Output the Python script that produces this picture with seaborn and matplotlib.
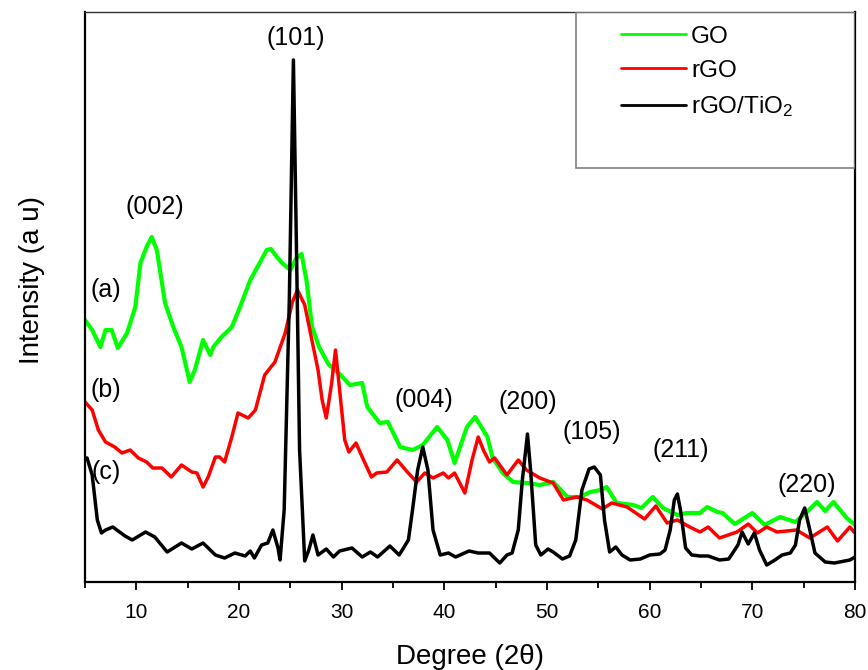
import matplotlib
matplotlib.use("Agg")
import matplotlib.pyplot as plt
from matplotlib.patches import Rectangle
import seaborn as sns
import numpy as np

# ---- data (intensity in arbitrary units) ----
go_deg = [5.0, 5.7, 6.5, 7.0, 7.6, 8.2, 9.1, 9.9, 10.4, 11.0, 11.5, 12.0, 12.8, 13.6, 14.4,
          15.2, 15.7, 16.5, 17.2, 17.5, 18.3, 19.3, 20.1, 21.1, 21.8, 22.7, 23.1, 23.7, 24.2,
          25.0, 25.6, 26.1, 26.6, 27.1, 27.8, 28.7, 29.8, 30.8, 32.0, 32.5, 33.7, 34.5, 35.7,
          36.9, 37.9, 39.3, 40.3, 41.0, 42.2, 43.0, 44.2, 44.7, 45.7, 46.7, 48.1, 49.3, 50.6,
          52.0, 53.2, 54.2, 55.2, 55.8, 56.8, 58.4, 59.2, 60.3, 61.3, 62.7, 63.6, 64.9, 65.6,
          66.6, 67.1, 68.3, 70.0, 71.2, 72.7, 74.2, 75.3, 76.3, 77.1, 77.9, 79.2, 80.0]
go_int = [262, 252, 235, 252, 252, 234, 249, 275, 319, 335, 345, 332, 279, 255, 235,
          200, 212, 242, 227, 235, 245, 255, 275, 302, 315, 332, 333, 325, 319,
          312, 324, 328, 300, 256, 235, 218, 208, 197, 199, 175, 159, 160, 135,
          132, 137, 155, 142, 119, 155, 165, 145, 124, 109, 100, 99, 97, 100,
          85, 85, 90, 92, 95, 79, 77, 74, 85, 74, 67, 69, 69, 75,
          70, 69, 58, 69, 57, 65, 60, 70, 80, 71, 80, 64, 57]

rgo_deg = [5.0, 5.7, 6.3, 7.0, 7.9, 8.6, 9.4, 10.2, 11.0, 11.6, 12.5, 13.4, 14.4, 15.4, 15.9,
           16.5, 17.0, 17.7, 18.1, 18.6, 19.3, 19.9, 20.9, 21.6, 22.5, 23.5, 24.5, 25.2, 25.7,
           26.4, 27.0, 27.7, 28.1, 28.5, 29.0, 29.4, 29.9, 30.3, 30.7, 31.4, 32.0, 32.9, 33.4,
           34.4, 35.4, 36.4, 37.3, 38.1, 38.9, 39.9, 40.4, 41.0, 42.0, 42.7, 43.3, 43.8, 44.4,
           44.9, 46.1, 47.2, 48.0, 49.3, 50.6, 51.6, 52.9, 53.9, 55.4, 56.3, 57.8, 59.5, 60.6,
           61.7, 62.7, 63.9, 64.9, 65.7, 66.8, 68.5, 69.6, 70.5, 71.4, 72.4, 74.3, 75.6, 77.3,
           78.3, 79.5, 80.0]
rgo_int = [180, 172, 152, 140, 135, 129, 132, 124, 120, 114, 114, 105, 117, 110, 109,
           95, 105, 125, 125, 120, 145, 169, 164, 172, 207, 220, 249, 280, 292,
           277, 247, 212, 182, 164, 197, 232, 182, 142, 130, 139, 125, 105, 109,
           110, 122, 110, 100, 109, 104, 109, 104, 109, 89, 122, 145, 132, 120,
           124, 107, 122, 112, 104, 99, 82, 85, 82, 73, 79, 75, 63, 76,
           59, 62, 55, 50, 55, 44, 50, 58, 49, 55, 50, 52, 44, 55,
           41, 55, 49]

tio2_deg = [5.0, 5.2, 5.7, 6.2, 6.6, 7.0, 7.7, 8.9, 9.6, 10.9, 11.8, 13.0, 14.4, 15.4, 16.5,
            17.7, 18.6, 19.6, 20.6, 21.1, 21.5, 22.2, 22.8, 23.3, 23.8, 24.0, 24.4, 24.9, 25.3,
            25.6, 25.9, 26.4, 26.8, 27.2, 27.7, 28.5, 29.2, 29.8, 31.0, 32.0, 32.8, 33.5, 34.7,
            35.6, 36.5, 36.9, 37.4, 37.9, 38.4, 38.9, 39.6, 40.4, 41.1, 42.4, 43.3, 44.4, 45.4,
            46.1, 46.6, 47.2, 47.6, 48.1, 48.4, 48.9, 49.4, 50.1, 50.6, 51.5, 52.2, 52.8, 53.4,
            54.1, 54.6, 55.2, 55.6, 56.1, 56.7, 57.3, 58.1, 59.1, 60.0, 61.0, 61.5, 62.0, 62.4,
            62.7, 63.0, 63.5, 64.1, 64.9, 65.7, 66.8, 67.7, 68.6, 69.0, 69.6, 70.2, 70.7, 71.4,
            72.2, 72.9, 73.7, 74.2, 74.6, 75.1, 75.6, 76.1, 77.1, 78.0, 79.5, 80.0]
tio2_int = [124, 124, 107, 62, 49, 52, 55, 46, 42, 50, 45, 30, 39, 33, 39,
            27, 24, 29, 26, 31, 24, 37, 39, 52, 34, 22, 72, 282, 522,
            332, 132, 21, 32, 47, 27, 33, 25, 31, 34, 25, 30, 25, 36,
            27, 42, 72, 112, 135, 112, 52, 27, 29, 25, 31, 29, 29, 19,
            27, 29, 52, 102, 148, 112, 37, 27, 33, 30, 23, 26, 42, 92,
            113, 115, 107, 62, 30, 35, 27, 22, 23, 27, 28, 32, 52, 82,
            88, 72, 34, 27, 26, 26, 22, 23, 37, 50, 38, 49, 32, 17,
            22, 27, 29, 37, 62, 74, 52, 29, 20, 19, 22, 25]

series_labels = ["GO", "rGO", "rGO/TiO$_2$"]
series_colors = ["#00ff00", "#ff0000", "#000000"]

peak_labels = ["(002)", "(101)", "(004)", "(200)", "(105)", "(211)", "(220)"]
peak_x = [11.8, 25.5, 38.0, 48.1, 54.4, 63.0, 75.3]
peak_y = [375, 544, 182, 180, 150, 132, 97]

curve_tags = ["(a)", "(b)", "(c)"]
tag_x = [5.5, 5.5, 5.6]
tag_y = [292, 192, 110]

x_ticks = [10, 20, 30, 40, 50, 60, 70, 80]
x_minor = [5, 15, 25, 35, 45, 55, 65, 75]

# ---- style ----
sns.set_style("white")
plt.rcParams["font.family"] = ["Liberation Sans", "DejaVu Sans"]
plt.rcParams["mathtext.fontset"] = "custom"
plt.rcParams["mathtext.rm"] = "Liberation Sans"
plt.rcParams["mathtext.it"] = "Liberation Sans"
plt.rcParams["text.color"] = "black"
plt.rcParams["axes.labelcolor"] = "black"
plt.rcParams["xtick.color"] = "black"
plt.rcParams["ytick.color"] = "black"

fig = plt.figure(figsize=(8.68, 6.70), dpi=100)
ax = fig.add_axes([85 / 868, 1 - 582 / 670, 770 / 868, 570 / 670])

data = [(go_deg, go_int), (rgo_deg, rgo_int), (tio2_deg, tio2_int)]
lws = [3.0, 2.5, 2.5]
for (xs, ys), lab, col, lw in zip(data, series_labels, series_colors, lws):
    sns.lineplot(x=xs, y=ys, color=col, lw=lw, ax=ax, label=lab, estimator=None, sort=False)

ax.set_xlim(5, 80)
ax.set_ylim(0, 570)
ax.set_xticks(x_ticks)
ax.set_xticks(x_minor, minor=True)
ax.set_yticks([])
ax.tick_params(axis="x", which="major", direction="out", length=6, width=1.3,
               labelsize=15, pad=9, bottom=True, labelcolor="black")
ax.tick_params(axis="x", which="minor", direction="out", length=4, width=1.3, bottom=True)
for side in ["left", "bottom", "right"]:
    ax.spines[side].set_color("black")
    ax.spines[side].set_linewidth(1.6)
ax.spines["top"].set_color("#333333")
ax.spines["top"].set_linewidth(1.0)

ax.set_xlabel("Degree (2\u03b8)", fontsize=20, color="black")
ax.xaxis.set_label_coords(0.5, -0.108)
ax.set_ylabel("Intensity (a u)", fontsize=20, color="black")
ax.yaxis.set_label_coords(-0.052, 0.53)

for t, x, y in zip(peak_labels, peak_x, peak_y):
    ax.text(x, y, t, fontsize=18, ha="center", va="center", color="black")
for t, x, y in zip(curve_tags, tag_x, tag_y):
    ax.text(x, y, t, fontsize=18, ha="left", va="center", color="black")

# legend box (taller than its entries, as in the reference)
ax.add_patch(Rectangle((0.6377, 0.7263), 0.3623, 0.2737, transform=ax.transAxes,
                       fill=False, edgecolor="#808080", lw=1.2, zorder=5))
leg = ax.legend(loc="upper left", bbox_to_anchor=(0.683, 0.993), frameon=False,
                fontsize=17.5, handlelength=2.7, handletextpad=0.2, labelspacing=0.5,
                borderaxespad=0)
for h in leg.get_lines():
    h.set_linewidth(2.0)
for t in leg.get_texts():
    t.set_color("black")

fig.savefig("out.png", dpi=100)
